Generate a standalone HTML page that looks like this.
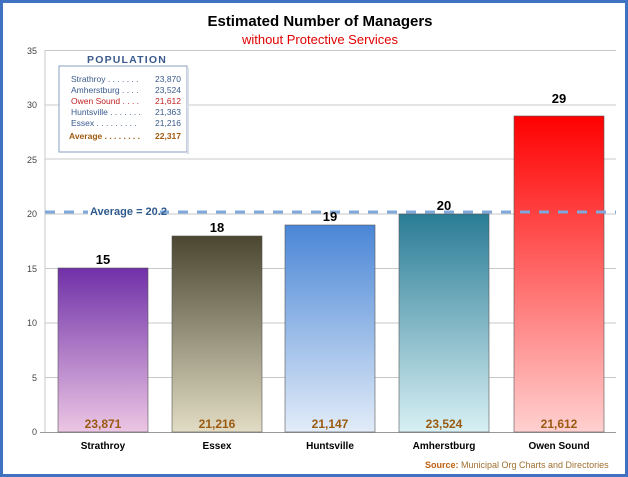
<!DOCTYPE html>
<html><head><meta charset="utf-8"><style>
html,body{margin:0;padding:0;background:#fff;}
svg{display:block;font-family:"Liberation Sans",sans-serif;}
</style></head><body>
<svg width="628" height="477" viewBox="0 0 628 477" xmlns="http://www.w3.org/2000/svg">
<defs>
<linearGradient id="g1" x1="0" y1="0" x2="0" y2="1"><stop offset="0" stop-color="#7030a8"/><stop offset="1" stop-color="#ecc6e4"/></linearGradient>
<linearGradient id="g2" x1="0" y1="0" x2="0" y2="1"><stop offset="0" stop-color="#4a4630"/><stop offset="1" stop-color="#e2dcc4"/></linearGradient>
<linearGradient id="g3" x1="0" y1="0" x2="0" y2="1"><stop offset="0" stop-color="#4a86d6"/><stop offset="1" stop-color="#e2ecf8"/></linearGradient>
<linearGradient id="g4" x1="0" y1="0" x2="0" y2="1"><stop offset="0" stop-color="#2a7c96"/><stop offset="1" stop-color="#d8f0f4"/></linearGradient>
<linearGradient id="g5" x1="0" y1="0" x2="0" y2="1"><stop offset="0" stop-color="#ff0000"/><stop offset="1" stop-color="#ffd0d0"/></linearGradient>
</defs>
<rect x="1.5" y="1.5" width="625" height="474" fill="#fff" stroke="#3f72c0" stroke-width="3"/>
<text x="320" y="26" font-size="15" font-weight="bold" text-anchor="middle" fill="#000">Estimated Number of Managers</text>
<text x="320" y="44" font-size="13" text-anchor="middle" fill="#e00000">without Protective Services</text>
<g stroke="#c8c8c8" stroke-width="1">
<line x1="45" y1="50.5" x2="616" y2="50.5"/>
<line x1="45" y1="105" x2="616" y2="105"/>
<line x1="45" y1="159" x2="616" y2="159"/>
<line x1="45" y1="214" x2="616" y2="214"/>
<line x1="45" y1="268.5" x2="616" y2="268.5"/>
<line x1="45" y1="323" x2="616" y2="323"/>
<line x1="45" y1="377.5" x2="616" y2="377.5"/>
<line x1="45" y1="50" x2="45" y2="432"/>
</g>
<line x1="40" y1="432.5" x2="616" y2="432.5" stroke="#999"/>
<g font-size="9" fill="#444" text-anchor="end">
<text x="37" y="54">35</text><text x="37" y="108">30</text><text x="37" y="163">25</text><text x="37" y="217">20</text><text x="37" y="272">15</text><text x="37" y="326">10</text><text x="37" y="381">5</text><text x="37" y="435">0</text>
</g>
<g stroke="#555" stroke-width="0.6">
<rect x="58" y="268" width="90" height="164" fill="url(#g1)"/>
<rect x="172" y="236" width="90" height="196" fill="url(#g2)"/>
<rect x="285" y="225" width="90" height="207" fill="url(#g3)"/>
<rect x="399" y="214" width="90" height="218" fill="url(#g4)"/>
<rect x="514" y="116" width="90" height="316" fill="url(#g5)"/>
</g>
<line x1="45" y1="212" x2="616" y2="212" stroke="#7fa8dc" stroke-width="3" stroke-dasharray="10,9"/>
<rect x="88" y="204" width="72" height="14" fill="#fff"/>
<text x="90" y="215" font-size="11" font-weight="bold" fill="#2e5a8c">Average = 20.2</text>
<g font-size="13" font-weight="bold" text-anchor="middle" fill="#000">
<text x="103" y="264">15</text><text x="217" y="232">18</text><text x="330" y="221">19</text><text x="444" y="210">20</text><text x="559" y="103">29</text>
</g>
<g font-size="12" font-weight="bold" text-anchor="middle" fill="#9a5a10">
<text x="103" y="428">23,871</text><text x="217" y="428">21,216</text><text x="330" y="428">21,147</text><text x="444" y="428">23,524</text><text x="559" y="428">21,612</text>
</g>
<g font-size="10" font-weight="bold" text-anchor="middle" fill="#000">
<text x="103" y="449">Strathroy</text><text x="217" y="449">Essex</text><text x="330" y="449">Huntsville</text><text x="444" y="449">Amherstburg</text><text x="559" y="449">Owen Sound</text>
</g>
<text x="425" y="468" font-size="9" fill="#a07030"><tspan font-weight="bold" fill="#c06010">Source:</tspan> Municipal Org Charts and Directories</text>
<text x="87" y="63" font-size="10.5" font-weight="bold" fill="#3a5a8c" letter-spacing="1.2">POPULATION</text>
<rect x="59" y="66" width="128" height="86" fill="#fff" stroke="#8aa0c0" stroke-width="1"/>
<rect x="187" y="68" width="2" height="86" fill="#d8dde6"/>
<g font-size="8.5" fill="#3a5a8c">
<text x="71" y="82">Strathroy  . . . . . . .</text><text x="181" y="82" text-anchor="end">23,870</text>
<text x="71" y="93">Amherstburg . . . .</text><text x="181" y="93" text-anchor="end">23,524</text>
<text x="71" y="104" fill="#c02020">Owen Sound . . . .</text><text x="181" y="104" text-anchor="end" fill="#c02020">21,612</text>
<text x="71" y="115">Huntsville . . . . . . .</text><text x="181" y="115" text-anchor="end">21,363</text>
<text x="71" y="126">Essex  . . . . . . . . .</text><text x="181" y="126" text-anchor="end">21,216</text>
<text x="69" y="139" font-weight="bold" fill="#a05a10">Average . . . . . . . .</text><text x="181" y="139" text-anchor="end" font-weight="bold" fill="#a05a10">22,317</text>
</g>
</svg>
</body></html>
